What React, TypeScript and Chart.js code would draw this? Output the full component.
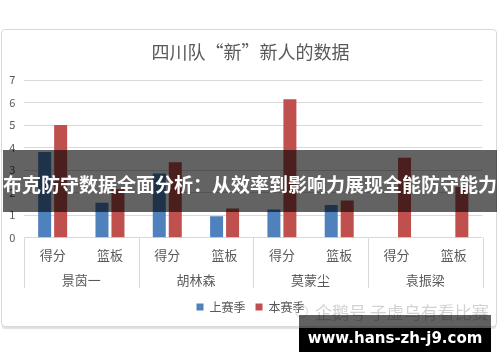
import React, { useEffect, useRef } from "react";
import { Chart, registerables } from "chart.js";

Chart.register(...registerables);

const players = ["景茵一", "胡林森", "莫蒙尘", "袁振梁"];
const stats = ["得分", "篮板"];
const categories = players.flatMap(() => stats);
const lastSeason = [3.8, 1.55, 2.85, 0.95, 1.25, 1.45, 0, 0];
const thisSeason = [5.0, 2.15, 3.35, 1.3, 6.15, 1.65, 3.55, 2.25];
const seriesNames = ["上赛季", "本赛季"];
const yMin = 0;
const yMax = 7;
const yStep = 1;
const titleText = "四川队“新”新人的数据";
const bannerText = "布克防守数据全面分析：从效率到影响力展现全能防守能力";
const watermarkText = "企鹅号 子虚乌有看比赛";
const siteText = "www.hans-zh-j9.com";

const FONT = "'Noto Sans CJK SC', 'Noto Sans', sans-serif";
const GRAY = "#595959";
const GRID = "#d9d9d9";

const groupLines = {
  id: "groupLines",
  afterDraw(chart: any) {
    const x = chart.scales.x;
    const x2 = chart.scales.x2;
    const ctx = chart.ctx;
    ctx.save();
    ctx.strokeStyle = GRID;
    ctx.lineWidth = 1;
    for (let g = 0; g <= players.length; g++) {
      const px = Math.round(x.left + (g * x.width) / players.length) + 0.5;
      ctx.beginPath();
      ctx.moveTo(px, chart.chartArea.bottom);
      ctx.lineTo(px, x2.bottom - 3);
      ctx.stroke();
    }
    ctx.restore();
  },
};

export default function App() {
  const ref = useRef<HTMLCanvasElement>(null);

  useEffect(() => {
    if (!ref.current) return;
    const chart = new Chart(ref.current, {
      type: "bar",
      data: {
        labels: categories,
        datasets: [
          {
            label: seriesNames[0],
            data: lastSeason,
            backgroundColor: "#4F81BD",
            categoryPercentage: 0.558,
            barPercentage: 0.8125,
          },
          {
            label: seriesNames[1],
            data: thisSeason,
            backgroundColor: "#C0504D",
            categoryPercentage: 0.558,
            barPercentage: 0.8125,
          },
        ],
      },
      plugins: [groupLines],
      options: {
        animation: false,
        responsive: false,
        layout: { padding: { left: 16.5, right: 13.5, top: 0, bottom: 3 } },
        plugins: {
          title: {
            display: true,
            text: titleText,
            color: GRAY,
            font: { family: FONT, size: 18, weight: "normal" },
            padding: { top: 11.2, bottom: 17.2 },
          },
          legend: {
            position: "bottom",
            labels: {
              boxWidth: 7,
              boxHeight: 7,
              padding: 10,
              color: GRAY,
              font: { family: FONT, size: 12 },
            },
          },
          tooltip: { enabled: false },
        },
        scales: {
          x: {
            position: "bottom",
            offset: true,
            grid: { display: false },
            border: { display: false },
            ticks: {
              color: GRAY,
              padding: 1.7,
              font: { family: FONT, size: 13 },
              maxRotation: 0,
              autoSkip: false,
            },
            afterFit: (s: any) => {
              s.height = 27;
            },
          },
          x2: {
            type: "category",
            position: "bottom",
            labels: players,
            offset: true,
            grid: { display: false },
            border: { display: false },
            ticks: {
              color: GRAY,
              padding: -0.3,
              font: { family: FONT, size: 13 },
              maxRotation: 0,
              autoSkip: false,
            },
            afterFit: (s: any) => {
              s.height = 26.3;
            },
          },
          y: {
            min: yMin,
            max: yMax,
            grid: { color: GRID, drawTicks: false, lineWidth: 1 },
            border: { display: false },
            ticks: {
              stepSize: yStep,
              color: GRAY,
              mirror: true,
              padding: -14.7,
              font: { family: FONT, size: 11 },
            },
            afterFit: (s: any) => {
              s.width = 5.5;
            },
          },
        },
      } as any,
    });
    return () => chart.destroy();
  }, []);

  return (
    <div
      style={{
        position: "absolute",
        left: 0,
        top: 0,
        width: 500,
        height: 362,
        background: "#fff",
        overflow: "hidden",
      }}
    >
      <div
        style={{
          position: "absolute",
          left: 1,
          top: 29,
          width: 496,
          height: 298,
          boxSizing: "border-box",
          border: "1px solid #d9d9d9",
          borderRadius: 4,
          boxShadow: "0 3px 1px -1px rgba(0,0,0,0.12)",
          background: "#fff",
        }}
      >
        <canvas ref={ref} width={494} height={296} style={{ display: "block" }} />
      </div>
      <div
        style={{
          position: "absolute",
          left: 3,
          top: 150,
          width: 494,
          height: 62,
          background: "rgba(0,0,0,0.61)",
        }}
      />
      <div
        style={{
          position: "absolute",
          left: 0,
          top: 150,
          width: 500,
          height: 62,
          paddingTop: 4,
          boxSizing: "border-box",
          display: "flex",
          alignItems: "center",
          justifyContent: "center",
          whiteSpace: "nowrap",
          color: "#fff",
          fontFamily: FONT,
          fontWeight: "bold",
          fontSize: 19,
        }}
      >
        {bannerText}
      </div>
      <div
        style={{
          position: "absolute",
          left: 295,
          top: 305,
          width: 13,
          height: 13,
          borderRadius: "50%",
          border: "1.5px solid #d6d6d6",
          boxSizing: "border-box",
        }}
      />
      <div
        style={{
          position: "absolute",
          left: 315,
          top: 301,
          whiteSpace: "nowrap",
          color: "#d2d2d2",
          fontFamily: FONT,
          fontSize: 17,
          lineHeight: "22px",
        }}
      >
        {watermarkText}
      </div>
      <div
        style={{
          position: "absolute",
          left: 299,
          top: 315,
          width: 192,
          height: 13,
          background: "rgba(0,0,0,0.62)",
        }}
      />
      <div
        style={{
          position: "absolute",
          left: 299,
          top: 328,
          width: 192,
          height: 24,
          background: "#000",
        }}
      />
      <div
        style={{
          position: "absolute",
          left: 299,
          top: 315,
          width: 192,
          height: 37,
          display: "flex",
          alignItems: "center",
          justifyContent: "center",
          paddingTop: 8,
          boxSizing: "border-box",
          whiteSpace: "nowrap",
          color: "#fff",
          fontFamily: "'DejaVu Sans', sans-serif",
          fontWeight: "bold",
          fontSize: 15,
        }}
      >
        {siteText}
      </div>
    </div>
  );
}
